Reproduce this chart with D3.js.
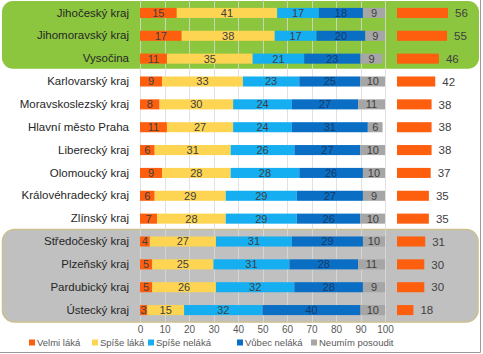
<!DOCTYPE html>
<html>
<head>
<meta charset="utf-8">
<script src="https://cdn.jsdelivr.net/npm/d3@7"></script>
<style>
    body { margin: 0; background: #fff; }
    svg { display: block; font-family: "Liberation Sans", Arial, sans-serif; }
</style>
</head>
<body>
<svg width="483" height="354"></svg>
<script>
// data
const regions = ["Jihočeský kraj", "Jihomoravský kraj", "Vysočina", "Karlovarský kraj", "Moravskoslezský kraj",
    "Hlavní město Praha", "Liberecký kraj", "Olomoucký kraj", "Královéhradecký kraj", "Zlínský kraj",
    "Středočeský kraj", "Plzeňský kraj", "Pardubický kraj", "Ústecký kraj"];
const seriesNames = ["Velmi láká", "Spíše láká", "Spíše neláká", "Vůbec neláká", "Neumím posoudit"];
const velmiLaka   = [15, 17, 11, 9, 8, 11, 6, 9, 6, 7, 4, 5, 5, 3];
const spiseLaka   = [41, 38, 35, 33, 30, 27, 31, 28, 29, 28, 27, 25, 26, 15];
const spiseNelaka = [17, 17, 21, 23, 24, 24, 26, 28, 29, 29, 31, 31, 32, 32];
const vubecNelaka = [18, 20, 23, 25, 27, 31, 27, 26, 27, 26, 29, 28, 28, 40];
const neumim      = [9, 9, 9, 10, 11, 6, 10, 10, 9, 10, 10, 11, 9, 10];
const lakaTotal   = [56, 55, 46, 42, 38, 38, 38, 37, 35, 35, 31, 30, 30, 18];
const xTicks = [0, 10, 20, 30, 40, 50, 60, 70, 80, 90, 100];
const greenGroup = ["Jihočeský kraj", "Vysočina"];
const grayGroup = ["Středočeský kraj", "Ústecký kraj"];

const colors = ["#fe5f0f", "#fdd552", "#15aef0", "#0a6fc4", "#a6a6a6"];

const svg = d3.select("svg");

const x = d3.scaleLinear().domain([0, 100]).range([140, 385]);
const y = d3.scaleBand().domain(regions).range([1.5, 321.5]).paddingInner(0.56).paddingOuter(0.28);
const x2 = d3.scaleLinear().domain([0, 56]).range([397, 448]);

const rows = regions.map((r, i) => ({
    region: r,
    values: [velmiLaka[i], spiseLaka[i], spiseNelaka[i], vubecNelaka[i], neumim[i]],
    total: lakaTotal[i]
}));

// outer frame (right + bottom edges)
svg.append("path")
    .attr("d", "M480.5,0 V352.5 H0")
    .attr("fill", "none")
    .attr("stroke", "#9a9a9a");

// highlight boxes
const mid = d => y(d) + y.bandwidth() / 2;
svg.append("rect")
    .attr("x", 2).attr("width", 477)
    .attr("y", mid(greenGroup[0]) - 12)
    .attr("height", mid(greenGroup[1]) - mid(greenGroup[0]) + 22)
    .attr("rx", 11)
    .attr("fill", "#8cc63f");

svg.append("rect")
    .attr("x", 2.5).attr("width", 475.5)
    .attr("y", mid(grayGroup[0]) - 12)
    .attr("height", mid(grayGroup[1]) - mid(grayGroup[0]) + 24)
    .attr("rx", 12)
    .attr("fill", "#c0c0c0")
    .attr("stroke", "#cbbf8e")
    .attr("stroke-width", 1.5);

// vertical gridlines
svg.append("g")
    .selectAll("line")
    .data(xTicks)
    .join("line")
    .attr("x1", d => Math.round(x(d)) + 0.5)
    .attr("x2", d => Math.round(x(d)) + 0.5)
    .attr("y1", 0)
    .attr("y2", 322)
    .attr("stroke", "#d9d9d9")
    .attr("stroke-opacity", 0.8);

// x axis labels
const xAxis = d3.axisBottom(x).tickValues(xTicks).tickSize(0).tickPadding(0);
svg.append("g")
    .attr("transform", "translate(0, 326)")
    .call(xAxis)
    .call(g => g.select(".domain").remove())
    .call(g => g.selectAll("text").attr("font-size", 10).attr("fill", "#595959")
        .attr("font-family", "Liberation Sans, Arial, sans-serif"));

// category labels
const yAxis = d3.axisLeft(y).tickSize(0).tickPadding(11);
svg.append("g")
    .attr("transform", "translate(140, 0)")
    .call(yAxis)
    .call(g => g.select(".domain").remove())
    .call(g => g.selectAll("text").attr("font-size", 11.5).attr("fill", "#262626")
        .attr("font-family", "Liberation Sans, Arial, sans-serif"));

// stacked bars
const row = svg.append("g")
    .selectAll("g")
    .data(rows)
    .join("g")
    .attr("transform", d => `translate(0, ${y(d.region)})`);

const segs = row.selectAll("g")
    .data(d => {
        let acc = 0;
        return d.values.map((v, k) => {
            const s = { k, v, x0: acc, x1: acc + v };
            acc += v;
            return s;
        });
    })
    .join("g");

segs.append("rect")
    .attr("x", d => x(d.x0))
    .attr("width", d => x(Math.min(d.x1, 100)) - x(d.x0))
    .attr("height", y.bandwidth())
    .attr("fill", d => colors[d.k]);

segs.append("text")
    .attr("x", d => (x(d.x0) + x(Math.min(d.x1, 100))) / 2)
    .attr("y", y.bandwidth() / 2)
    .attr("dy", "0.36em")
    .attr("text-anchor", "middle")
    .attr("font-size", 11)
    .attr("fill", d => d.k === 3 ? "#173a66" : "#404040")
    .text(d => d.v);

// total "láká" bars
row.append("rect")
    .attr("x", x2(0))
    .attr("width", d => x2(d.total) - x2(0))
    .attr("height", y.bandwidth())
    .attr("fill", colors[0]);

row.append("text")
    .attr("x", d => x2(d.total) + 7)
    .attr("y", y.bandwidth() / 2)
    .attr("dy", "0.36em")
    .attr("font-size", 11.5)
    .attr("fill", "#404040")
    .text(d => d.total);

// legend
const legendX = [29, 92, 148, 237, 311];
const legend = svg.append("g")
    .selectAll("g")
    .data(seriesNames)
    .join("g")
    .attr("transform", (d, i) => `translate(${legendX[i]}, 343)`);

legend.append("rect")
    .attr("y", -3.5)
    .attr("width", 6)
    .attr("height", 6)
    .attr("fill", (d, i) => colors[i]);

legend.append("text")
    .attr("x", 8)
    .attr("dy", "0.36em")
    .attr("font-size", 9.5)
    .attr("fill", "#595959")
    .text(d => d);
</script>
</body>
</html>
